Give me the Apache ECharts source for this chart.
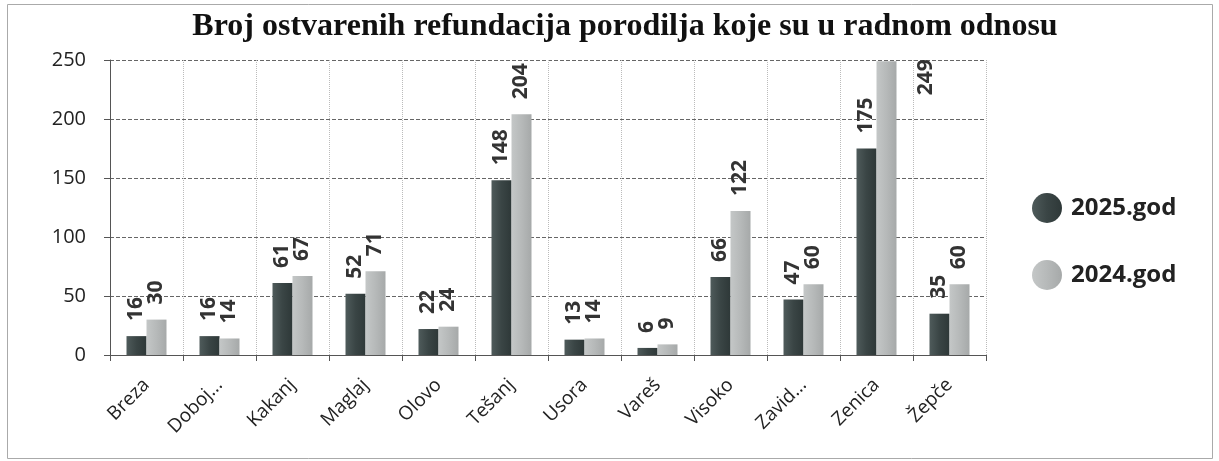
<!DOCTYPE html>
<html>
<head>
<meta charset="utf-8">
<script src="https://cdn.jsdelivr.net/npm/echarts@6/dist/echarts.min.js"></script>
<style>
  html, body { margin: 0; padding: 0; background: #fff; }
  #chart { width: 1219px; height: 461px; }
</style>
</head>
<body>
<div id="chart"></div>
<script>
  // podaci
  const categories = ['Breza', 'Doboj...', 'Kakanj', 'Maglaj', 'Olovo', 'Tešanj', 'Usora', 'Vareš', 'Visoko', 'Zavid...', 'Zenica', 'Žepče'];
  const god2025 = [16, 16, 61, 52, 22, 148, 13, 6, 66, 47, 175, 35];
  const god2024 = [30, 14, 67, 71, 24, 204, 14, 9, 122, 60, 249, 60];

  const chart = echarts.init(document.getElementById('chart'));

  const labelStyle = {
    show: true,
    position: 'top',
    rotate: 90,
    align: 'left',
    verticalAlign: 'middle',
    distance: 15,
    fontFamily: 'Open Sans',
    fontWeight: 'bold',
    fontSize: 21,
    color: '#333'
  };

  // Zenica 2024 - labela je desno od stupca (kao u originalu)
  const data2024 = god2024.map(function (v, i) {
    if (v >= 245) {
      return { value: v, label: { position: [50, 34] } };
    }
    return v;
  });

  const option = {
    backgroundColor: '#fff',
    animation: false,
    title: {
      text: 'Broj ostvarenih refundacija porodilja koje su u radnom odnosu',
      left: 620,
      textAlign: 'center',
      top: 6,
      textStyle: {
        fontFamily: 'Liberation Serif',
        fontWeight: 'bold',
        fontSize: 32,
        color: '#111'
      }
    },
    graphic: [{
      type: 'rect',
      shape: { x: 7.5, y: 4.5, width: 1205, height: 454 },
      style: { fill: 'none', stroke: '#aaa', lineWidth: 1 }
    }],
    legend: {
      orient: 'vertical',
      left: 1027,
      top: 188,
      itemWidth: 30,
      itemHeight: 30,
      itemGap: 37,
      icon: 'circle',
      textStyle: {
        fontFamily: 'Open Sans',
        fontWeight: 'bold',
        fontSize: 24,
        color: '#222',
        padding: [0, 0, 0, 4]
      },
      data: ['2025.god', '2024.god']
    },
    grid: { left: 110, right: 233, top: 60, bottom: 106, containLabel: false },
    xAxis: {
      type: 'category',
      data: categories,
      axisLine: { lineStyle: { color: '#555', width: 1 } },
      axisTick: { show: true, length: 6, lineStyle: { color: '#555' } },
      splitLine: { show: true, lineStyle: { color: '#bbb', type: 'dotted' } },
      axisLabel: {
        rotate: 45,
        margin: 27,
        fontFamily: 'Open Sans',
        fontSize: 19,
        color: '#222'
      }
    },
    yAxis: {
      type: 'value',
      min: 0,
      max: 250,
      interval: 50,
      axisLine: { show: true, lineStyle: { color: '#555', width: 1 } },
      axisTick: { show: true, length: 6, lineStyle: { color: '#555' } },
      splitLine: { show: true, lineStyle: { color: '#666', type: 'dashed', width: 1 } },
      axisLabel: {
        margin: 24,
        fontFamily: 'Open Sans',
        fontSize: 20,
        color: '#222'
      }
    },
    series: [
      {
        name: '2025.god',
        type: 'bar',
        data: god2025,
        barWidth: 20,
        barGap: '0%',
        itemStyle: {
          color: new echarts.graphic.LinearGradient(0, 0, 1, 0, [
            { offset: 0, color: '#4f5b5b' },
            { offset: 0.5, color: '#3a4545' },
            { offset: 1, color: '#2e3838' }
          ])
        },
        label: labelStyle
      },
      {
        name: '2024.god',
        type: 'bar',
        data: data2024,
        barWidth: 20,
        itemStyle: {
          color: new echarts.graphic.LinearGradient(0, 0, 1, 0, [
            { offset: 0, color: '#c4c7c7' },
            { offset: 0.5, color: '#b6b9b9' },
            { offset: 1, color: '#a6a9a9' }
          ])
        },
        label: labelStyle
      }
    ]
  };

  chart.setOption(option);
</script>
</body>
</html>
